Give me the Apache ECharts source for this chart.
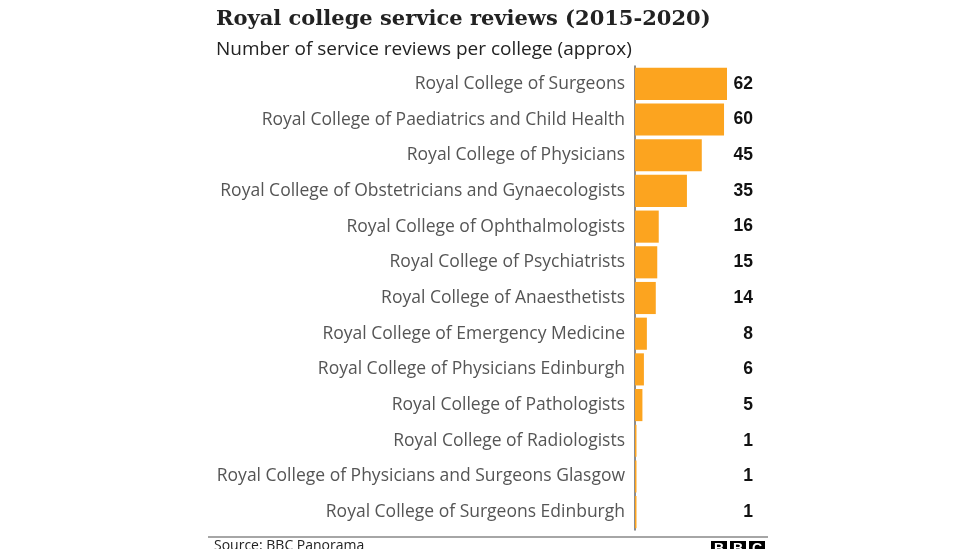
<!DOCTYPE html>
<html><head><meta charset="utf-8">
<script src="https://cdn.jsdelivr.net/npm/echarts@6/dist/echarts.min.js"></script>
<style>html,body{margin:0;padding:0;background:#fff}#c{width:976px;height:549px}</style>
</head><body><div id="c"></div>
<script>
const categories = [
  "Royal College of Surgeons",
  "Royal College of Paediatrics and Child Health",
  "Royal College of Physicians",
  "Royal College of Obstetricians and Gynaecologists",
  "Royal College of Ophthalmologists",
  "Royal College of Psychiatrists",
  "Royal College of Anaesthetists",
  "Royal College of Emergency Medicine",
  "Royal College of Physicians Edinburgh",
  "Royal College of Pathologists",
  "Royal College of Radiologists",
  "Royal College of Physicians and Surgeons Glasgow",
  "Royal College of Surgeons Edinburgh"
];
const reviews = [62, 60, 45, 35, 16, 15, 14, 8, 6, 5, 1, 1, 1];

const chart = echarts.init(document.getElementById('c'));
chart.setOption({
  animation: false,
  title: [
    {text: 'Royal college service reviews (2015-2020)', left: 211, top: 4,
     textStyle: {fontFamily: 'DejaVu Serif', fontWeight: 'bold', fontSize: 21, color: '#222'}},
    {text: 'Number of service reviews per college (approx)', left: 211, top: 35,
     textStyle: {fontFamily: 'Open Sans', fontWeight: 'normal', fontSize: 19, color: '#222'}}
  ],
  grid: {left: 635, top: 66, width: 92, height: 464, containLabel: false},
  xAxis: {type: 'value', min: 0, max: 62, show: false},
  yAxis: [
    {type: 'category', data: categories, inverse: true,
     axisLine: {show: true, lineStyle: {color: '#666', width: 1.5}},
     axisTick: {show: false},
     axisLabel: {margin: 10, fontFamily: 'Open Sans', fontSize: 17.5, color: '#555'}},
    {type: 'category', data: reviews.map(String), inverse: true, position: 'right',
     axisLine: {show: false}, axisTick: {show: false},
     axisLabel: {margin: 26, align: 'right', fontFamily: 'Liberation Sans', fontWeight: 'bold', fontSize: 17.5, color: '#111'}}
  ],
  series: [{
    type: 'bar', data: reviews, barCategoryGap: '10%',
    itemStyle: {color: '#fca41f'}
  }],
  graphic: [
    {type: 'line', shape: {x1: 208, y1: 537, x2: 768, y2: 537}, style: {stroke: '#888', lineWidth: 1.5}},
    {type: 'text', left: 214, top: 539, style: {text: 'Source: BBC Panorama', fontFamily: 'Open Sans', fontSize: 14, fill: '#222'}},
    {type: 'rect', shape: {x: 711, y: 541, width: 16, height: 16}, style: {fill: '#000'}},
    {type: 'rect', shape: {x: 730, y: 541, width: 16, height: 16}, style: {fill: '#000'}},
    {type: 'rect', shape: {x: 749, y: 541, width: 16, height: 16}, style: {fill: '#000'}},
    {type: 'text', x: 719, y: 549, style: {text: 'B', fontFamily: 'Liberation Sans', fontWeight: 'bold', fontSize: 14, fill: '#fff', align: 'center', verticalAlign: 'middle'}},
    {type: 'text', x: 738, y: 549, style: {text: 'B', fontFamily: 'Liberation Sans', fontWeight: 'bold', fontSize: 14, fill: '#fff', align: 'center', verticalAlign: 'middle'}},
    {type: 'text', x: 757, y: 549, style: {text: 'C', fontFamily: 'Liberation Sans', fontWeight: 'bold', fontSize: 14, fill: '#fff', align: 'center', verticalAlign: 'middle'}}
  ]
});
</script></body></html>
